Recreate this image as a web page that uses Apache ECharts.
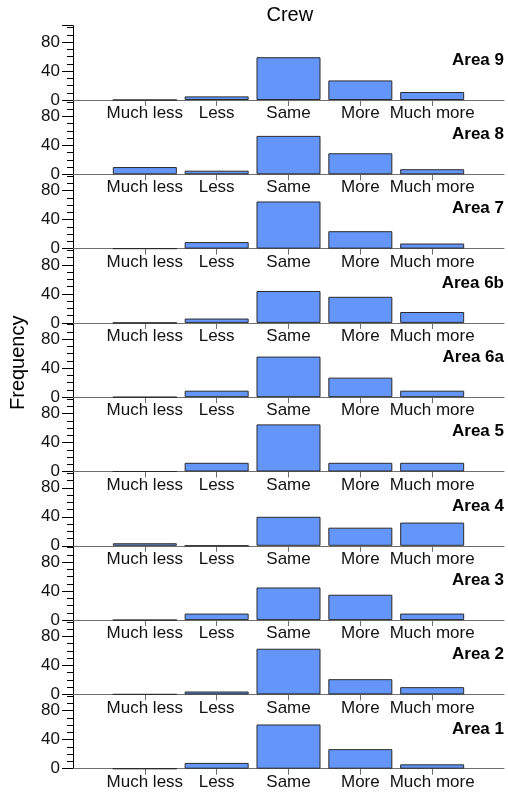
<!DOCTYPE html>
<html>
<head>
<meta charset="utf-8">
<script src="https://cdn.jsdelivr.net/npm/echarts@6/dist/echarts.min.js"></script>
<style>
html,body{margin:0;padding:0;background:#fff;}
#c{width:508px;height:798px;}
</style>
</head>
<body>
<div id="c"></div>
<script>
const categories = ['Much less', 'Less', 'Same', 'More', 'Much more'];
const areaNames = ['Area 9', 'Area 8', 'Area 7', 'Area 6b', 'Area 6a', 'Area 5', 'Area 4', 'Area 3', 'Area 2', 'Area 1'];
const area9 = [0, 5, 59, 27, 11];
const area8 = [10, 5, 53, 29, 7];
const area7 = [0, 9, 65, 24, 7];
const area6b = [0, 6, 44, 36, 15];
const area6a = [0, 9, 56, 27, 9];
const area5 = [0, 12, 65, 12, 12];
const area4 = [3.5, 0, 40, 25, 32];
const area3 = [0, 9, 45, 35, 9];
const area2 = [0, 4, 63, 21, 10];
const area1 = [0, 8, 61, 27, 6];
const areaValues = [area9, area8, area7, area6b, area6a, area5, area4, area3, area2, area1];
const yTickLabels = [0, 40, 80];

const FONT = '"Liberation Sans", Arial, sans-serif';
const LEFT = 73, RIGHT = 4, TOP0 = 25.7, PH = 74.3;
const YMAX = 102.5;

const chart = echarts.init(document.getElementById('c'), null, {renderer: 'canvas'});
const grids = [], xAxes = [], yAxes = [], series = [], graphics = [];
const axisCats = [''].concat(categories, ['']);

areaValues.forEach((vals, k) => {
  grids.push({left: LEFT, right: RIGHT, top: TOP0 + k * PH, height: PH, containLabel: false, outerBoundsMode: 'none'});
  xAxes.push({
    type: 'category', gridIndex: k, data: axisCats, boundaryGap: false, position: 'bottom',
    axisLine: {show: true, lineStyle: {color: '#6e6e6e', width: 1}},
    axisTick: {show: true, length: 6, interval: (i) => i > 0 && i < axisCats.length - 1, lineStyle: {color: '#6e6e6e'}},
    axisLabel: {show: true, interval: 0, fontFamily: FONT, fontSize: 17, color: '#111', margin: 5},
    splitLine: {show: false}
  });
  // minor ticks axis
  yAxes.push({
    type: 'value', gridIndex: k, min: 0, max: YMAX, interval: 10, position: 'left',
    axisLine: {show: true, lineStyle: {color: '#000', width: 1}},
    axisTick: {show: true, length: 6, lineStyle: {color: '#000'}},
    axisLabel: {show: false}, splitLine: {show: false}
  });
  // major ticks axis with labels
  yAxes.push({
    type: 'value', gridIndex: k, min: 0, max: YMAX, interval: 40, position: 'left', offset: 0,
    axisLine: {show: false},
    axisTick: {show: true, length: 11, lineStyle: {color: '#000'}},
    axisLabel: {show: true, margin: 13, fontFamily: FONT, fontSize: 17, color: '#111',
      formatter: (v) => yTickLabels.indexOf(v) >= 0 ? String(v) : ''},
    splitLine: {show: false}
  });
  series.push({
    type: 'bar', xAxisIndex: k, yAxisIndex: 2 * k + 1,
    data: ['-'].concat(vals, ['-']),
    barWidth: 64,
    itemStyle: {color: '#6496fa', borderColor: '#2b2b2b', borderWidth: 1},
    emphasis: {disabled: true}, animation: false
  });
  graphics.push({
    type: 'text', right: RIGHT, top: TOP0 + k * PH + 26,
    style: {text: areaNames[k], font: 'bold 17px ' + FONT, fill: '#000'}
  });
});

graphics.push({
  type: 'text', left: (LEFT + 508 - RIGHT) / 2 - 22, top: 5,
  style: {text: 'Crew', font: '20px ' + FONT, fill: '#000'}
});
graphics.push({
  type: 'text', x: 8, y: 410, rotation: Math.PI / 2,
  style: {text: 'Frequency', font: '20px ' + FONT, fill: '#000', textAlign: 'left', textVerticalAlign: 'top'}
});

chart.setOption({
  animation: false,
  backgroundColor: '#fff',
  grid: grids, xAxis: xAxes, yAxis: yAxes, series: series,
  graphic: graphics
});
</script>
</body>
</html>
